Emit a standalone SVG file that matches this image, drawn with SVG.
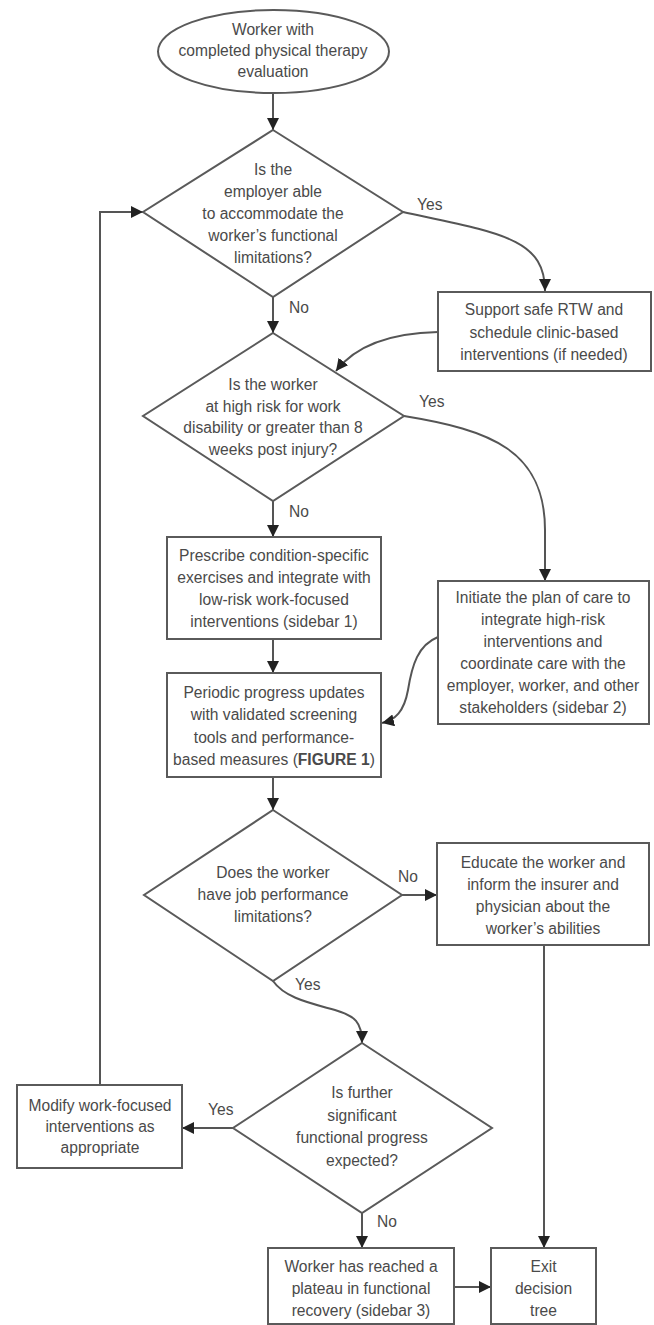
<svg xmlns="http://www.w3.org/2000/svg" width="654" height="1325" viewBox="0 0 654 1325">
<defs>
<marker id="ah" markerUnits="userSpaceOnUse" markerWidth="13" markerHeight="12" refX="12" refY="6" orient="auto">
<path d="M0,0 L12,6 L0,12 z" fill="#222"/>
</marker>
<style>
.n{fill:#fff;stroke:#5a5a5a;stroke-width:2}
.t{font-family:"Liberation Sans",Arial,sans-serif;font-size:15.6px;fill:#4a4a4a;text-anchor:middle}
.l{font-family:"Liberation Sans",Arial,sans-serif;font-size:15.6px;fill:#4a4a4a}
.c{fill:none;stroke:#555;stroke-width:2;marker-end:url(#ah)}
.p{fill:none;stroke:#555;stroke-width:2}
</style>
</defs>
<rect width="654" height="1325" fill="#fff"/>
<g id="connectors">
<path class="c" d="M273,93 L273,130"/>
<path class="c" d="M403,212 C500,233 545,238 545,291"/>
<path class="c" d="M273,297 L273,333"/>
<path class="c" d="M438,332 C392,333 356,345 336,371"/>
<path class="c" d="M404,416 C490,430 545,450 545,530 L545,581"/>
<path class="c" d="M273,501 L273,537"/>
<path class="c" d="M273,639 L273,673"/>
<path class="c" d="M438,637 C418,645 412,665 408,690 C404,712 395,720 382,723"/>
<path class="c" d="M273,777 L273,810"/>
<path class="c" d="M402,895 L437,895"/>
<path class="c" d="M273,981 C285,998 310,1003 335,1010 C355,1016 362,1022 362,1043"/>
<path class="c" d="M544,945 L544,1248"/>
<path class="c" d="M233,1128 L182,1128"/>
<path class="c" d="M100,1085 L100,212 L143,212"/>
<path class="c" d="M362,1213 L362,1248"/>
<path class="c" d="M454,1287 L491,1287"/>
<text class="l" x="417" y="210">Yes</text>
<text class="l" x="289" y="313">No</text>
<text class="l" x="419" y="407">Yes</text>
<text class="l" x="289" y="517">No</text>
<text class="l" x="398" y="882">No</text>
<text class="l" x="295" y="990">Yes</text>
<text class="l" x="208" y="1115">Yes</text>
<text class="l" x="377" y="1227">No</text>
</g>
<g id="start">
<ellipse class="n" cx="273.5" cy="51.5" rx="115.5" ry="41.5"/>
<text class="t" x="273" y="35">Worker with</text>
<text class="t" x="273" y="56">completed physical therapy</text>
<text class="t" x="273" y="77">evaluation</text>
</g>
<g id="d1">
<polygon class="n" points="273,130 403,212 273,297 143,212"/>
<text class="t" x="273" y="175">Is the</text>
<text class="t" x="273" y="197">employer able</text>
<text class="t" x="273" y="219">to accommodate the</text>
<text class="t" x="273" y="241">worker’s functional</text>
<text class="t" x="273" y="263">limitations?</text>
</g>
<g id="support">
<rect class="n" x="438" y="292" width="213" height="79"/>
<text class="t" x="544" y="315">Support safe RTW and</text>
<text class="t" x="544" y="338">schedule clinic-based</text>
<text class="t" x="544" y="360">interventions (if needed)</text>
</g>
<g id="d2">
<polygon class="n" points="273,333 404,416 273,501 143,416"/>
<text class="t" x="273" y="390">Is the worker</text>
<text class="t" x="273" y="412">at high risk for work</text>
<text class="t" x="273" y="433">disability or greater than 8</text>
<text class="t" x="273" y="455">weeks post injury?</text>
</g>
<g id="prescribe">
<rect class="n" x="167" y="537" width="214" height="102"/>
<text class="t" x="274" y="561">Prescribe condition-specific</text>
<text class="t" x="274" y="583">exercises and integrate with</text>
<text class="t" x="274" y="605">low-risk work-focused</text>
<text class="t" x="274" y="627">interventions (sidebar 1)</text>
</g>
<g id="initiate">
<rect class="n" x="438" y="581" width="211" height="143"/>
<text class="t" x="543" y="603">Initiate the plan of care to</text>
<text class="t" x="543" y="625">integrate high-risk</text>
<text class="t" x="543" y="647">interventions and</text>
<text class="t" x="543" y="669">coordinate care with the</text>
<text class="t" x="543" y="691">employer, worker, and other</text>
<text class="t" x="543" y="713">stakeholders (sidebar 2)</text>
</g>
<g id="periodic">
<rect class="n" x="167" y="673" width="214" height="104"/>
<text class="t" x="274" y="698">Periodic progress updates</text>
<text class="t" x="274" y="720">with validated screening</text>
<text class="t" x="274" y="743">tools and performance-</text>
<text class="t" x="274" y="765">based measures (<tspan font-weight="bold">FIGURE 1</tspan>)</text>
</g>
<g id="d3">
<polygon class="n" points="273,810 402,895 273,981 144,895"/>
<text class="t" x="273" y="878">Does the worker</text>
<text class="t" x="273" y="900">have job performance</text>
<text class="t" x="273" y="922">limitations?</text>
</g>
<g id="educate">
<rect class="n" x="437" y="843" width="212" height="102"/>
<text class="t" x="543" y="868">Educate the worker and</text>
<text class="t" x="543" y="890">inform the insurer and</text>
<text class="t" x="543" y="912">physician about the</text>
<text class="t" x="543" y="934">worker’s abilities</text>
</g>
<g id="d4">
<polygon class="n" points="362,1043 492,1128 362,1213 233,1128"/>
<text class="t" x="362" y="1098">Is further</text>
<text class="t" x="362" y="1121">significant</text>
<text class="t" x="362" y="1143">functional progress</text>
<text class="t" x="362" y="1166">expected?</text>
</g>
<g id="modify">
<rect class="n" x="17" y="1085" width="165" height="83"/>
<text class="t" x="100" y="1111">Modify work-focused</text>
<text class="t" x="100" y="1132">interventions as</text>
<text class="t" x="100" y="1153">appropriate</text>
</g>
<g id="plateau">
<rect class="n" x="268" y="1248" width="186" height="76"/>
<text class="t" x="361" y="1272">Worker has reached a</text>
<text class="t" x="361" y="1294">plateau in functional</text>
<text class="t" x="361" y="1316">recovery (sidebar 3)</text>
</g>
<g id="exit">
<rect class="n" x="491" y="1248" width="105" height="76"/>
<text class="t" x="543.5" y="1272">Exit</text>
<text class="t" x="543.5" y="1294">decision</text>
<text class="t" x="543.5" y="1316">tree</text>
</g>
</svg>
